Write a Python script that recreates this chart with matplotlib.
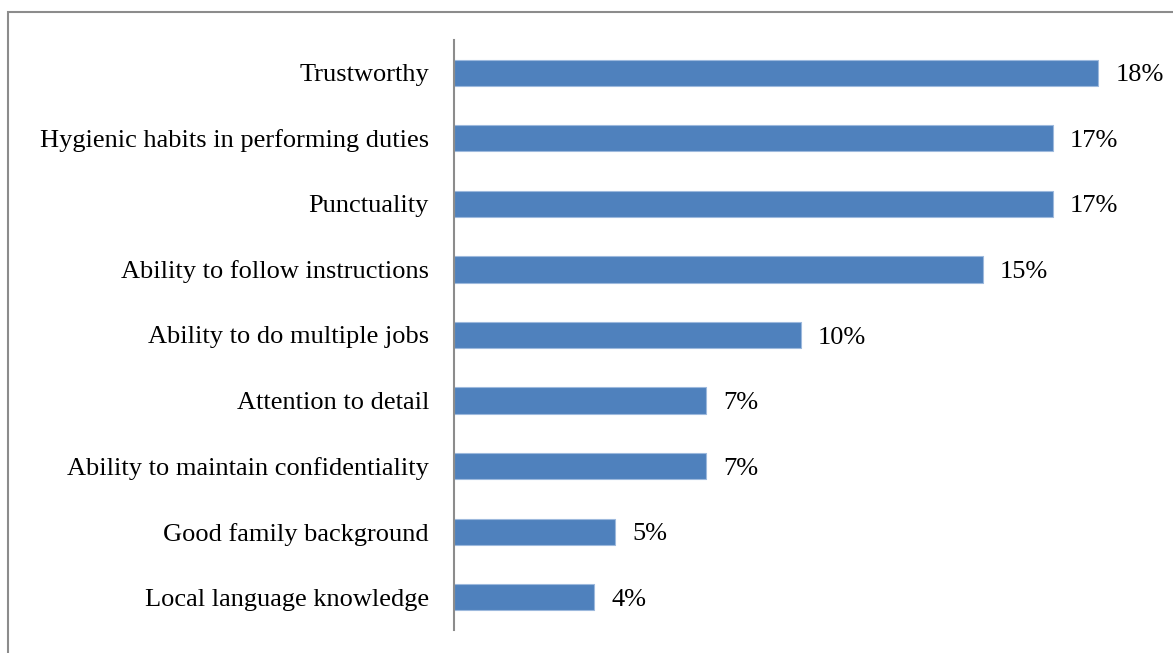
import matplotlib.pyplot as plt
from matplotlib.patches import Rectangle

# survey shares (percent), top row first
labels = ['Trustworthy', 'Hygienic habits in performing duties', 'Punctuality',
          'Ability to follow instructions', 'Ability to do multiple jobs',
          'Attention to detail', 'Ability to maintain confidentiality',
          'Good family background', 'Local language knowledge']
shares = [18.4, 17.1, 17.1, 15.1, 9.9, 7.2, 7.2, 4.6, 4.0]

plt.rcParams['font.family'] = ['Liberation Serif', 'DejaVu Serif']

W, H = 1173, 653
fig = plt.figure(figsize=(W / 100, H / 100), dpi=100)
ax = fig.add_axes([454 / W, 1 - 630 / H, 700 / W, 590 / H])

pos = list(range(len(labels)))[::-1]
ax.barh(pos, shares, height=0.4, color='#4F81BD', edgecolor='#9DB9DD', linewidth=0.8)
for p, v in zip(pos, shares):
    ax.text(v + 0.5, p, f'{v:.0f}%', va='center_baseline', ha='left', fontsize=19)

ax.set_xlim(0, 20)
ax.set_ylim(-0.5, len(labels) - 0.5)
ax.set_yticks(pos)
ax.set_yticklabels(labels, fontsize=19, va='center_baseline')
ax.tick_params(axis='y', length=0, pad=18)
ax.set_xticks([])
for s in ['top', 'right', 'bottom']:
    ax.spines[s].set_visible(False)
ax.spines['left'].set_color('#8C8C8C')
ax.spines['left'].set_linewidth(1.5)

# outer chart border (only top and left fall inside the image)
fig.add_artist(Rectangle((7.5 / W, -0.2), 1.2, 1 - 12 / H + 0.2, transform=fig.transFigure,
                         fill=False, edgecolor='#8C8C8C', linewidth=1.5))

fig.savefig('out.png', dpi=100)
